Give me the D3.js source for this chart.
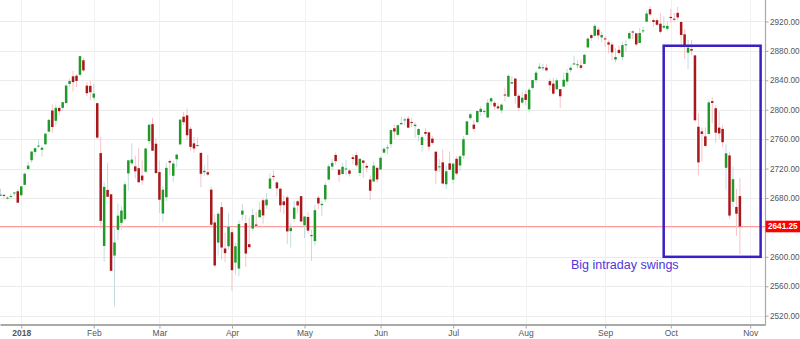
<!DOCTYPE html>
<html>
<head>
<meta charset="utf-8">
<script src="https://cdn.jsdelivr.net/npm/d3@7"></script>
<style>
  html, body { margin: 0; padding: 0; background: #fff; }
  svg { display: block; font-family: "Liberation Sans", Arial, sans-serif; }
</style>
</head>
<body>
<svg id="chart" width="800" height="339"></svg>
<script>
// S&P 500 daily sessions, 21 Dec 2017 – 29 Oct 2018
const dates = [
  "2017-12-21","2017-12-22","2017-12-26","2017-12-27","2017-12-28","2017-12-29",
  "2018-01-02","2018-01-03","2018-01-04","2018-01-05","2018-01-08","2018-01-09","2018-01-10","2018-01-11","2018-01-12","2018-01-16","2018-01-17","2018-01-18","2018-01-19","2018-01-22","2018-01-23","2018-01-24","2018-01-25","2018-01-26","2018-01-29","2018-01-30","2018-01-31",
  "2018-02-01","2018-02-02","2018-02-05","2018-02-06","2018-02-07","2018-02-08","2018-02-09","2018-02-12","2018-02-13","2018-02-14","2018-02-15","2018-02-16","2018-02-20","2018-02-21","2018-02-22","2018-02-23","2018-02-26","2018-02-27","2018-02-28",
  "2018-03-01","2018-03-02","2018-03-05","2018-03-06","2018-03-07","2018-03-08","2018-03-09","2018-03-12","2018-03-13","2018-03-14","2018-03-15","2018-03-16","2018-03-19","2018-03-20","2018-03-21","2018-03-22","2018-03-23","2018-03-26","2018-03-27","2018-03-28","2018-03-29",
  "2018-04-02","2018-04-03","2018-04-04","2018-04-05","2018-04-06","2018-04-09","2018-04-10","2018-04-11","2018-04-12","2018-04-13","2018-04-16","2018-04-17","2018-04-18","2018-04-19","2018-04-20","2018-04-23","2018-04-24","2018-04-25","2018-04-26","2018-04-27","2018-04-30",
  "2018-05-01","2018-05-02","2018-05-03","2018-05-04","2018-05-07","2018-05-08","2018-05-09","2018-05-10","2018-05-11","2018-05-14","2018-05-15","2018-05-16","2018-05-17","2018-05-18","2018-05-21","2018-05-22","2018-05-23","2018-05-24","2018-05-25","2018-05-29","2018-05-30","2018-05-31",
  "2018-06-01","2018-06-04","2018-06-05","2018-06-06","2018-06-07","2018-06-08","2018-06-11","2018-06-12","2018-06-13","2018-06-14","2018-06-15","2018-06-18","2018-06-19","2018-06-20","2018-06-21","2018-06-22","2018-06-25","2018-06-26","2018-06-27","2018-06-28","2018-06-29",
  "2018-07-02","2018-07-03","2018-07-05","2018-07-06","2018-07-09","2018-07-10","2018-07-11","2018-07-12","2018-07-13","2018-07-16","2018-07-17","2018-07-18","2018-07-19","2018-07-20","2018-07-23","2018-07-24","2018-07-25","2018-07-26","2018-07-27","2018-07-30","2018-07-31",
  "2018-08-01","2018-08-02","2018-08-03","2018-08-06","2018-08-07","2018-08-08","2018-08-09","2018-08-10","2018-08-13","2018-08-14","2018-08-15","2018-08-16","2018-08-17","2018-08-20","2018-08-21","2018-08-22","2018-08-23","2018-08-24","2018-08-27","2018-08-28","2018-08-29","2018-08-30","2018-08-31",
  "2018-09-04","2018-09-05","2018-09-06","2018-09-07","2018-09-10","2018-09-11","2018-09-12","2018-09-13","2018-09-14","2018-09-17","2018-09-18","2018-09-19","2018-09-20","2018-09-21","2018-09-24","2018-09-25","2018-09-26","2018-09-27","2018-09-28",
  "2018-10-01","2018-10-02","2018-10-03","2018-10-04","2018-10-05","2018-10-08","2018-10-09","2018-10-10","2018-10-11","2018-10-12","2018-10-15","2018-10-16","2018-10-17","2018-10-18","2018-10-19","2018-10-22","2018-10-23","2018-10-24","2018-10-25","2018-10-26","2018-10-29"
];

const opens = [
  2683.02,2684.22,2679.09,2682.10,2686.10,2689.15,
  2683.73,2697.85,2719.31,2731.33,2742.67,2751.15,2745.55,2752.97,2770.18,2798.96,2784.99,2802.40,2802.60,2809.16,2835.05,2845.42,2846.24,2847.48,2867.23,2832.74,2832.41,
  2816.45,2808.92,2741.06,2614.78,2690.95,2685.01,2601.78,2636.75,2646.27,2651.21,2713.46,2727.14,2722.99,2720.53,2710.42,2715.80,2757.37,2780.45,2753.78,
  2715.22,2658.89,2681.06,2730.18,2710.18,2732.75,2752.91,2790.54,2792.31,2774.06,2754.27,2750.57,2741.38,2715.05,2714.99,2691.36,2646.71,2619.35,2667.57,2611.30,2614.41,
  2633.45,2592.17,2584.04,2657.36,2645.82,2617.18,2638.41,2643.89,2653.83,2676.90,2670.10,2692.74,2710.11,2701.16,2692.56,2675.40,2680.80,2634.92,2651.65,2675.47,2682.51,
  2642.96,2654.24,2628.08,2621.45,2680.34,2670.26,2678.12,2705.02,2722.70,2738.47,2718.59,2712.62,2719.71,2717.35,2735.39,2738.34,2713.98,2730.94,2723.60,2705.11,2702.43,2720.98,
  2718.70,2741.67,2748.46,2753.25,2774.84,2765.84,2780.18,2785.60,2787.94,2783.21,2777.78,2765.79,2752.01,2769.73,2769.28,2760.79,2742.94,2722.12,2728.45,2698.69,2727.13,
  2704.95,2733.27,2724.19,2737.68,2765.79,2788.56,2779.82,2783.14,2796.93,2797.36,2789.34,2811.35,2809.37,2804.55,2799.17,2820.68,2817.73,2835.49,2842.35,2819.00,2809.73,
  2821.17,2800.48,2829.62,2840.29,2855.92,2856.79,2857.19,2838.90,2835.46,2827.88,2827.95,2831.44,2838.32,2853.93,2861.51,2860.99,2860.29,2862.35,2884.69,2901.45,2900.62,2908.94,2898.37,
  2896.96,2891.59,2888.64,2868.26,2881.39,2871.57,2888.29,2896.85,2906.38,2903.83,2890.74,2906.60,2919.73,2936.76,2921.83,2921.75,2916.98,2911.65,2910.03,
  2926.29,2923.80,2931.69,2919.35,2902.54,2877.53,2882.51,2873.90,2776.87,2770.54,2763.83,2767.05,2811.67,2802.00,2775.66,2773.94,2721.03,2737.87,2674.88,2667.86,2682.65
];

const highs = [
  2692.64,2685.35,2682.74,2685.64,2687.66,2692.12,
  2695.89,2714.37,2729.29,2743.45,2748.51,2759.14,2750.80,2767.56,2787.85,2807.54,2807.04,2805.83,2810.33,2833.03,2842.24,2852.97,2848.56,2872.87,2870.62,2837.75,2839.26,
  2835.96,2808.92,2763.39,2701.04,2727.67,2685.27,2638.67,2672.61,2668.84,2702.10,2731.51,2754.42,2737.60,2747.75,2731.26,2747.76,2780.64,2789.15,2761.52,
  2730.89,2696.25,2728.09,2732.08,2730.60,2740.45,2786.57,2796.98,2801.90,2777.11,2763.03,2761.85,2741.38,2724.22,2739.14,2695.68,2657.67,2661.36,2674.78,2632.65,2659.07,
  2638.30,2619.14,2649.86,2672.08,2656.88,2653.55,2665.45,2661.43,2674.72,2680.26,2686.49,2713.34,2717.49,2702.84,2693.94,2682.86,2683.55,2645.30,2676.48,2677.35,2682.87,
  2655.27,2660.87,2637.14,2670.93,2683.35,2676.34,2701.27,2726.11,2732.86,2742.10,2718.59,2727.76,2731.96,2719.50,2739.19,2742.24,2733.33,2731.97,2727.36,2710.67,2729.34,2722.50,
  2736.93,2749.16,2752.61,2772.39,2779.90,2779.39,2790.21,2789.80,2791.47,2789.06,2782.81,2774.99,2765.05,2774.86,2769.28,2764.17,2742.94,2732.91,2746.09,2724.34,2743.26,
  2727.26,2736.58,2737.83,2764.41,2784.65,2795.58,2785.91,2799.22,2804.53,2801.19,2814.19,2816.76,2812.05,2809.70,2808.61,2829.99,2848.03,2845.57,2843.17,2821.74,2824.46,
  2825.83,2829.91,2840.38,2853.29,2863.43,2862.44,2862.48,2842.20,2843.40,2843.11,2827.95,2850.49,2855.63,2859.76,2873.23,2867.54,2868.78,2876.16,2898.25,2903.77,2916.50,2912.46,2906.32,
  2900.18,2894.21,2892.05,2883.81,2886.93,2892.52,2894.65,2906.76,2908.30,2904.65,2911.17,2912.36,2934.80,2940.91,2923.79,2923.95,2931.15,2927.22,2920.53,
  2937.06,2931.42,2939.86,2919.78,2909.64,2894.83,2894.70,2874.02,2795.14,2775.77,2775.99,2813.46,2816.94,2806.04,2797.77,2778.94,2753.59,2742.59,2722.70,2692.38,2706.85
];

const lows = [
  2682.40,2678.13,2677.96,2678.91,2682.69,2673.61,
  2682.36,2697.77,2719.07,2727.92,2737.60,2747.86,2736.06,2752.78,2769.64,2768.64,2778.38,2792.56,2798.08,2808.12,2830.59,2824.81,2830.94,2846.18,2851.48,2818.27,2813.04,
  2812.70,2759.97,2638.17,2593.07,2681.33,2580.56,2532.69,2622.45,2637.08,2648.87,2689.82,2725.11,2706.76,2701.29,2697.77,2713.74,2753.78,2744.22,2713.54,
  2659.65,2647.32,2675.75,2711.26,2701.74,2721.72,2751.54,2779.26,2758.68,2744.38,2741.47,2749.97,2694.59,2710.05,2709.79,2641.59,2585.89,2601.81,2596.12,2593.06,2609.72,
  2553.80,2575.49,2573.61,2649.58,2586.27,2610.79,2635.78,2639.25,2653.83,2645.05,2665.16,2692.05,2703.63,2681.90,2660.61,2657.99,2617.32,2612.67,2647.16,2659.01,2648.04,
  2625.41,2631.70,2594.62,2615.32,2664.70,2655.20,2674.14,2704.54,2717.45,2725.47,2701.91,2712.17,2711.36,2709.18,2725.70,2721.88,2709.54,2707.38,2714.99,2676.81,2702.43,2700.68,
  2718.70,2740.54,2739.51,2748.46,2760.16,2763.59,2780.17,2778.78,2774.65,2776.52,2761.73,2757.12,2743.19,2763.91,2744.39,2752.68,2698.67,2715.60,2699.38,2691.99,2718.03,
  2698.95,2711.16,2716.02,2733.52,2765.79,2786.24,2770.77,2781.53,2791.69,2793.39,2789.24,2805.89,2799.77,2800.01,2795.14,2811.12,2817.73,2835.26,2808.34,2798.11,2808.06,
  2805.85,2796.34,2827.37,2835.98,2855.92,2853.09,2851.98,2825.81,2819.88,2826.58,2802.49,2831.44,2833.73,2850.62,2861.32,2856.05,2854.03,2862.35,2884.69,2893.50,2898.40,2895.22,2891.73,
  2885.13,2876.92,2867.29,2864.12,2875.94,2866.78,2879.20,2896.39,2895.77,2886.16,2890.43,2903.82,2919.73,2927.11,2912.63,2913.70,2903.28,2909.27,2907.50,
  2917.91,2919.37,2921.36,2883.92,2869.29,2855.04,2874.27,2784.86,2710.51,2729.44,2749.03,2766.91,2781.81,2755.18,2760.27,2749.22,2691.43,2651.89,2667.84,2628.16,2603.54
];

const closes = [
  2684.57,2683.34,2680.50,2682.62,2687.54,2673.61,
  2695.81,2713.06,2723.99,2743.15,2747.71,2751.29,2748.23,2767.56,2786.24,2776.42,2802.56,2798.03,2810.30,2832.97,2839.13,2837.54,2839.25,2872.87,2853.53,2822.43,2823.81,
  2821.98,2762.13,2648.94,2695.14,2681.66,2581.00,2619.55,2656.00,2662.94,2698.63,2731.20,2732.22,2716.26,2701.33,2703.96,2747.30,2779.60,2744.28,2713.83,
  2677.67,2691.25,2720.94,2728.12,2726.80,2738.97,2786.57,2783.02,2765.31,2749.48,2747.33,2752.01,2712.92,2716.94,2711.93,2643.69,2588.26,2658.55,2612.62,2605.00,2640.87,
  2581.88,2614.45,2644.69,2662.84,2604.47,2613.16,2656.87,2642.19,2663.99,2656.30,2677.84,2706.39,2708.64,2693.13,2670.14,2670.29,2634.56,2639.40,2666.94,2669.91,2648.05,
  2654.80,2635.67,2629.73,2663.42,2672.63,2671.92,2697.79,2723.07,2727.72,2730.13,2711.45,2722.46,2720.13,2712.97,2733.01,2724.44,2733.29,2727.76,2721.33,2689.86,2724.01,2705.27,
  2734.62,2746.87,2748.80,2772.35,2770.37,2779.03,2782.00,2786.85,2775.63,2782.49,2779.66,2773.75,2762.59,2767.32,2749.76,2754.88,2717.07,2723.06,2699.63,2716.31,2718.37,
  2726.71,2713.22,2736.61,2759.82,2784.17,2793.84,2774.02,2798.29,2801.31,2798.43,2809.55,2815.62,2804.49,2801.83,2806.98,2820.40,2846.07,2837.44,2818.82,2802.60,2816.29,
  2813.36,2827.22,2840.35,2850.40,2858.45,2857.70,2853.58,2833.28,2821.93,2839.96,2818.37,2840.69,2850.13,2857.05,2862.96,2861.82,2856.98,2874.69,2896.74,2897.52,2914.04,2901.13,2901.52,
  2896.72,2888.60,2878.05,2871.68,2877.13,2887.89,2888.92,2904.18,2904.98,2888.80,2904.31,2907.95,2930.75,2929.67,2919.37,2915.56,2905.97,2914.00,2913.98,
  2924.59,2923.43,2925.51,2901.61,2885.57,2884.43,2880.34,2785.68,2728.37,2767.13,2750.79,2809.92,2809.21,2768.78,2767.78,2755.88,2740.69,2656.10,2705.57,2658.69,2641.25
];

// Axis ticks
const monthTickDates = ["2018-01-02","2018-02-01","2018-03-01","2018-04-02","2018-05-01","2018-06-01","2018-07-02","2018-08-01","2018-09-04","2018-10-01","2018-11-01"];
const monthTickLabels = ["2018","Feb","Mar","Apr","May","Jun","Jul","Aug","Sep","Oct","Nov"];
const priceTicks = [2520, 2560, 2600, 2640, 2680, 2720, 2760, 2800, 2840, 2880, 2920];
const lastPrice = 2641.25;

// Highlighted window and its note
const boxSessions = [191.95, 220];   // session index span
const boxPrices = [2600, 2887];
const noteText = "Big intraday swings";
const noteAt = { session: 165.1, price: 2582.8 };

// ---------------------------------------------------------------
const svg = d3.select("#chart");
const plotRight = 765, plotBottom = 324.5;

const x = d3.scaleLinear().domain([-0.145, 221.27]).range([0, plotRight]);
const y = d3.scaleLinear().domain([2508.0, 2949.2]).range([plotBottom, 0]);

const parse = d3.timeParse("%Y-%m-%d");
const lastDate = parse(dates[dates.length - 1]);
function sessionIndex(ds) {
  const k = dates.indexOf(ds);
  if (k >= 0) return k;
  // sessions after the last candle: count weekdays
  let n = dates.length - 1;
  const target = parse(ds);
  let d = d3.timeDay.offset(lastDate, 1);
  while (d <= target) {
    const wd = d.getDay();
    if (wd !== 0 && wd !== 6) n++;
    d = d3.timeDay.offset(d, 1);
  }
  return n;
}
const tickIdx = monthTickDates.map(sessionIndex);

const crisp = v => Math.round(v) + 0.5;

// grid
const grid = svg.append("g");
grid.selectAll("line.h").data(priceTicks).join("line")
  .attr("x1", 0).attr("x2", plotRight)
  .attr("y1", d => crisp(y(d))).attr("y2", d => crisp(y(d)))
  .attr("stroke", "#ebebeb").attr("stroke-width", 1);
grid.selectAll("line.v").data(tickIdx).join("line")
  .attr("x1", d => crisp(x(d))).attr("x2", d => crisp(x(d)))
  .attr("y1", 0).attr("y2", plotBottom)
  .attr("stroke", "#f1f1f1").attr("stroke-width", 1);

// last price line
svg.append("line")
  .attr("x1", 0).attr("x2", plotRight)
  .attr("y1", y(lastPrice)).attr("y2", y(lastPrice))
  .attr("stroke", "#ff9c9c").attr("stroke-width", 1.2);

// candles
svg.append("clipPath").attr("id", "plotclip")
  .append("rect").attr("x", 0).attr("y", 0).attr("width", plotRight).attr("height", plotBottom);

const candles = d3.range(dates.length).map(i => ({
  i, o: opens[i], h: highs[i], l: lows[i], c: closes[i], up: closes[i] >= opens[i]
}));

const cg = svg.append("g").attr("clip-path", "url(#plotclip)");
cg.selectAll("line.wick").data(candles).join("line")
  .attr("x1", d => x(d.i)).attr("x2", d => x(d.i))
  .attr("y1", d => y(d.h)).attr("y2", d => y(d.l))
  .attr("stroke", d => d.up ? "#c3dbe2" : "#f6c3c8")
  .attr("stroke-width", 1);
const bodyW = 2.5;
cg.selectAll("rect.body").data(candles).join("rect")
  .attr("x", d => x(d.i) - bodyW / 2)
  .attr("width", bodyW)
  .attr("y", d => y(Math.max(d.o, d.c)))
  .attr("height", d => Math.max(1, Math.abs(y(d.o) - y(d.c))))
  .attr("fill", d => d.up ? "#1f9a27" : "#a8171a");

// bottom axis
const xAxis = d3.axisBottom(x).tickValues(tickIdx)
  .tickFormat((d, k) => monthTickLabels[k]).tickSizeInner(4).tickSizeOuter(0);
const gx = svg.append("g").attr("transform", `translate(0,${plotBottom})`).call(xAxis);
gx.select(".domain").attr("stroke", "#a9a9a9").attr("stroke-width", 2);
gx.selectAll(".tick line").attr("stroke", "#a9a9a9");
gx.selectAll(".tick text")
  .attr("fill", "#555").attr("font-size", "8.5px").attr("dy", "0.5em")
  .attr("font-family", "'Liberation Sans', Arial, sans-serif")
  .attr("font-weight", (d, k) => k === 0 ? "bold" : "normal");

// right axis; the level hidden under the last-price tag carries no label
const tagHalf = 5.8;
const labelled = priceTicks.filter(v => Math.abs(y(v) - y(lastPrice)) > tagHalf + 3);
const yAxis = d3.axisRight(y).tickValues(labelled)
  .tickFormat(d3.format(".2f")).tickSizeInner(3).tickSizeOuter(0).tickPadding(1.5);
const gy = svg.append("g").attr("transform", `translate(${plotRight + 0.5},0)`).call(yAxis);
gy.select(".domain").attr("stroke", "#a9a9a9").attr("stroke-width", 1.2)
  .attr("d", `M0,0V${plotBottom + 1}`);
gy.selectAll(".tick line").attr("stroke", "#a9a9a9");
gy.selectAll(".tick text")
  .attr("fill", "#555").attr("font-size", "8.2px")
  .attr("font-family", "'Liberation Sans', Arial, sans-serif");

// last price tag
const tag = svg.append("g").attr("transform", `translate(${plotRight + 0.5},${y(lastPrice)})`);
tag.append("rect").attr("x", 0).attr("y", -tagHalf).attr("width", 800 - plotRight).attr("height", tagHalf * 2).attr("fill", "#ff0000");
tag.append("text").attr("x", 2.5).attr("y", 0).attr("dy", "0.35em")
  .attr("fill", "#fff").attr("font-size", "8.2px").attr("font-weight", "bold")
  .text(lastPrice.toFixed(2));

// highlight box + note
svg.append("rect")
  .attr("x", x(boxSessions[0])).attr("y", y(boxPrices[1]))
  .attr("width", x(boxSessions[1]) - x(boxSessions[0]))
  .attr("height", y(boxPrices[0]) - y(boxPrices[1]))
  .attr("fill", "none").attr("stroke", "#3b1fc6").attr("stroke-width", 2.5);
svg.append("text")
  .attr("x", x(noteAt.session)).attr("y", y(noteAt.price))
  .attr("fill", "#4e36d9").attr("font-size", "12.5px")
  .text(noteText);
</script>
</body>
</html>
